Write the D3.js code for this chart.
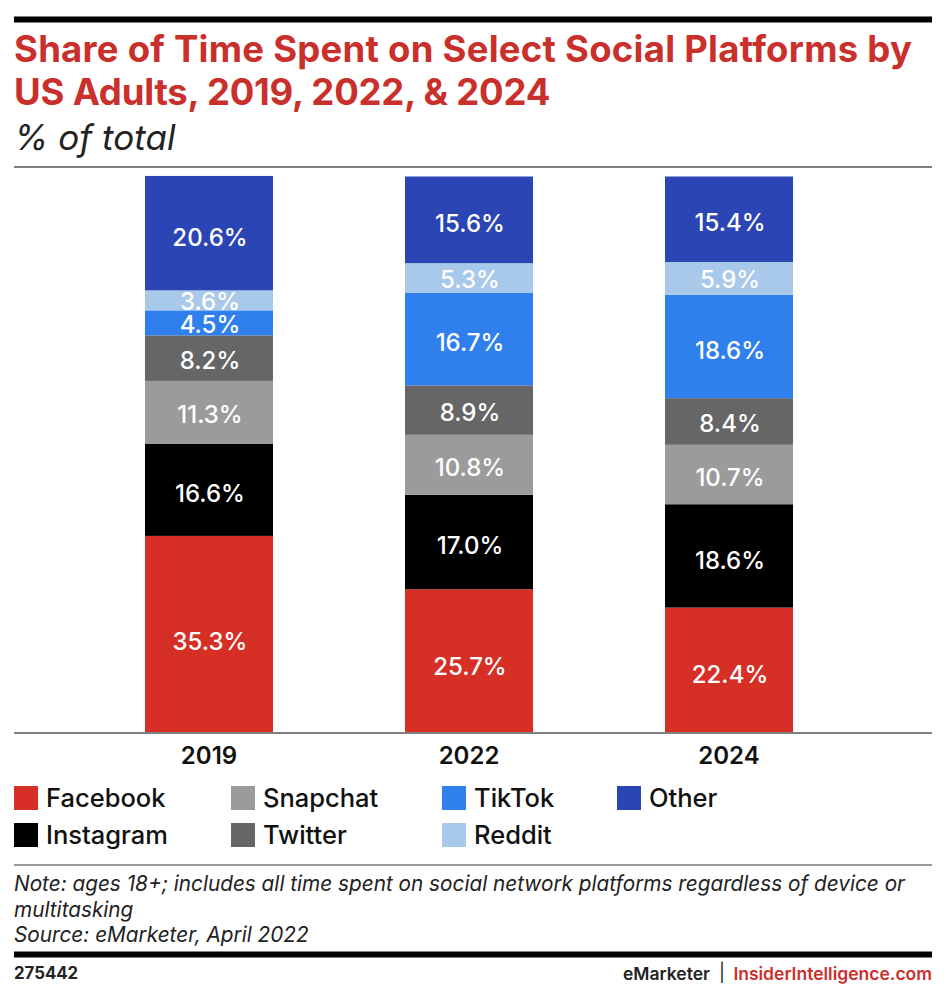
<!DOCTYPE html>
<html>
<head>
<meta charset="utf-8">
<script src="https://cdn.jsdelivr.net/npm/d3@7/dist/d3.min.js"></script>
<style>
  html, body { margin: 0; padding: 0; background: #fff; }
  svg { display: block; font-family: Inter, sans-serif; }
</style>
</head>
<body>
<div id="chart"></div>
<script>
const years = ['2019', '2022', '2024'];
const platforms = ['Facebook', 'Instagram', 'Snapchat', 'Twitter', 'TikTok', 'Reddit', 'Other'];
const facebook = [35.3, 25.7, 22.4];
const instagram = [16.6, 17.0, 18.6];
const snapchat = [11.3, 10.8, 10.7];
const twitter = [8.2, 8.9, 8.4];
const tiktok = [4.5, 16.7, 18.6];
const reddit = [3.6, 5.3, 5.9];
const other = [20.6, 15.6, 15.4];
const colors = ['#d62f26', '#000000', '#9b9b9b', '#666666', '#2f80ed', '#a8c9ea', '#2b45b5'];

const values = [facebook, instagram, snapchat, twitter, tiktok, reddit, other];
const rows = years.map((year, i) => {
  const row = { year };
  platforms.forEach((p, j) => (row[p] = values[j][i]));
  return row;
});

const width = 952;
const height = 1008;
const left = 14;
const right = 932;

const svg = d3.select('#chart').append('svg').attr('width', width).attr('height', height);

const x = d3.scaleBand().domain(years).range([79, 859]).paddingInner(0.5077).paddingOuter(0.2538);
const y = d3.scaleLinear().domain([0, 100]).range([732, 176.5]);

const dataset = d3.stack().keys(platforms)(rows);

const rule = (yPos, weight, color) =>
  svg.append('line')
    .attr('x1', left).attr('x2', right)
    .attr('y1', yPos).attr('y2', yPos)
    .attr('stroke', color).attr('stroke-width', weight);

const text = (xPos, yPos, str, size, weight, color, style) =>
  svg.append('text')
    .attr('x', xPos).attr('y', yPos)
    .attr('font-size', size).attr('font-weight', weight)
    .attr('font-style', style || 'normal')
    .attr('fill', color)
    .text(str);

// header
rule(19.5, 6, '#000');
text(left, 62, 'Share of Time Spent on Select Social Platforms by', 36.5, 700, '#c9302c').attr('letter-spacing', 0.25);
text(left, 105, 'US Adults, 2019, 2022, & 2024', 36.5, 700, '#c9302c').attr('letter-spacing', -0.2);
text(left, 150, '% of total', 35, 400, '#222', 'italic');
rule(167, 1.5, '#555');

// bars
const groups = svg.append('g').selectAll('g')
  .data(dataset)
  .join('g')
  .attr('fill', (d, i) => colors[i]);

groups.selectAll('rect')
  .data(d => d)
  .join('rect')
  .attr('x', d => x(d.data.year))
  .attr('y', d => y(d[1]))
  .attr('width', x.bandwidth())
  .attr('height', d => y(d[0]) - y(d[1]));

// labels sit a little below the middle of each segment, more so on tall ones
groups.selectAll('text')
  .data(d => d.map(v => ({ ...v, key: d.key })))
  .join('text')
  .attr('x', d => x(d.data.year) + x.bandwidth() / 2 + 1)
  .attr('y', d => (y(d[0]) + y(d[1])) / 2 + (y(d[0]) - y(d[1])) * 0.04)
  .attr('dy', '0.36em')
  .attr('text-anchor', 'middle')
  .attr('font-size', 24)
  .attr('font-weight', 500)
  .attr('fill', '#fff')
  .text(d => d.data[d.key].toFixed(1) + '%');

// x axis
const gx = svg.append('g')
  .attr('transform', 'translate(0,733)')
  .call(d3.axisBottom(x).tickSize(0).tickPadding(14));
gx.select('.domain').attr('d', `M${left},0H${right}`).attr('stroke', '#555').attr('stroke-width', 1.5);
gx.selectAll('text')
  .attr('font-family', 'Inter, sans-serif')
  .attr('font-size', 24)
  .attr('font-weight', 600)
  .attr('fill', '#111');

// legend
const legendX = d3.scaleOrdinal().domain(platforms)
  .range([left, left, 231, 231, 442, 442, 617]);
const legendY = d3.scaleOrdinal().domain(platforms)
  .range([798, 835, 798, 835, 798, 835, 798]);

const legend = svg.append('g').selectAll('g')
  .data(platforms)
  .join('g')
  .attr('transform', d => `translate(${legendX(d)},${legendY(d)})`);

legend.append('rect')
  .attr('y', -12)
  .attr('width', 24)
  .attr('height', 24)
  .attr('fill', (d, i) => colors[i]);

legend.append('text')
  .attr('x', 32)
  .attr('dy', '0.36em')
  .attr('font-size', 25.5)
  .attr('font-weight', 500)
  .attr('fill', '#111')
  .text(d => d);

// footer
rule(865, 1.5, '#777');
text(left, 891, 'Note: ages 18+; includes all time spent on social network platforms regardless of device or', 20.75, 400, '#222', 'italic');
text(left, 917, 'multitasking', 20.75, 400, '#222', 'italic');
text(left, 942, 'Source: eMarketer, April 2022', 20.75, 400, '#222', 'italic');
rule(954.5, 6, '#000');
text(left, 979, '275442', 16.8, 700, '#222');

text(710, 980, 'eMarketer', 17.5, 600, '#222').attr('text-anchor', 'end');
text(722, 979, '|', 18, 400, '#222').attr('text-anchor', 'middle');
text(right, 980, 'InsiderIntelligence.com', 17.5, 600, '#c9302c').attr('text-anchor', 'end');
</script>
</body>
</html>
